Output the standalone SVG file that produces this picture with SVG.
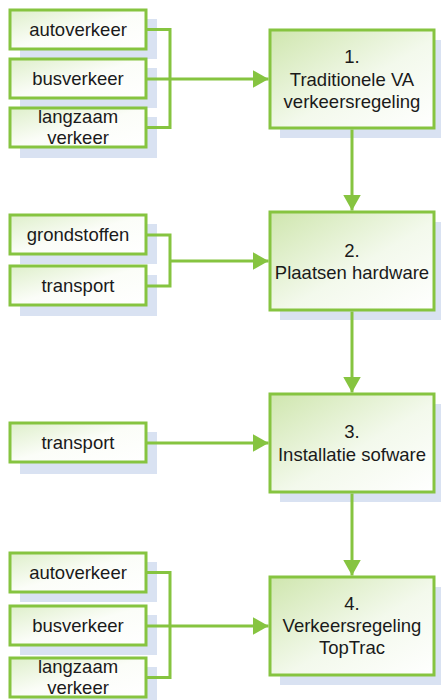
<svg xmlns="http://www.w3.org/2000/svg" width="441" height="700" viewBox="0 0 441 700">
<style>
.sh{fill:#d9e2f2}
.box{stroke:#86c440;stroke-width:3}
.sm{fill:url(#gs)}
.bg{fill:url(#gb)}
text{font-family:"Liberation Sans",Arial,sans-serif;font-size:18.5px;fill:#1a1a1a;text-anchor:middle}
.con{fill:none;stroke:#86c440;stroke-width:3}
</style>
<defs>
<linearGradient id="gb" x1="0" y1="0" x2="1" y2="1">
<stop offset="0" stop-color="#cfe6ae"/>
<stop offset="0.55" stop-color="#f3f9ec"/>
<stop offset="1" stop-color="#ffffff"/>
</linearGradient>
<linearGradient id="gs" x1="0" y1="0" x2="1" y2="1">
<stop offset="0" stop-color="#deefca"/>
<stop offset="0.5" stop-color="#fbfdf8"/>
<stop offset="1" stop-color="#ffffff"/>
</linearGradient>
<marker id="ah" markerUnits="userSpaceOnUse" markerWidth="16" markerHeight="18" viewBox="0 0 16 18" refX="16" refY="9" orient="auto">
<path d="M0,0 L16,9 L0,18 Z" fill="#86c440"/>
</marker>
</defs>

<g id="n-auto1"><rect class="sh" x="20" y="19" width="137" height="40"/><rect class="box sm" x="10" y="10" width="136" height="39"/><text x="78" y="36">autoverkeer</text></g>
<g id="n-bus1"><rect class="sh" x="20" y="68" width="137" height="40"/><rect class="box sm" x="10" y="59" width="136" height="39"/><text x="78" y="85">busverkeer</text></g>
<g id="n-langzaam1"><rect class="sh" x="20" y="117" width="137" height="41"/><rect class="box sm" x="10" y="108" width="136" height="39"/><text x="78" y="123">langzaam</text><text x="78" y="144">verkeer</text></g>

<g id="n-step1"><rect class="sh" x="280" y="40" width="161" height="98"/><rect class="box bg" x="270" y="30" width="164" height="98"/><text x="352" y="63">1.</text><text x="352" y="86">Traditionele VA</text><text x="352" y="108">verkeersregeling</text></g>

<g id="n-grond"><rect class="sh" x="20" y="224" width="137" height="40"/><rect class="box sm" x="10" y="215" width="136" height="39"/><text x="78" y="241">grondstoffen</text></g>
<g id="n-transport2"><rect class="sh" x="20" y="275" width="137" height="41"/><rect class="box sm" x="10" y="266" width="136" height="39"/><text x="78" y="292">transport</text></g>

<g id="n-step2"><rect class="sh" x="280" y="222" width="161" height="98"/><rect class="box bg" x="270" y="212" width="164" height="98"/><text x="352" y="256.5">2.</text><text x="352" y="279">Plaatsen hardware</text></g>

<g id="n-transport3"><rect class="sh" x="20" y="432" width="137" height="42"/><rect class="box sm" x="10" y="423" width="136" height="39"/><text x="78" y="449">transport</text></g>

<g id="n-step3"><rect class="sh" x="280" y="404" width="161" height="98"/><rect class="box bg" x="270" y="394" width="164" height="98"/><text x="352" y="438">3.</text><text x="352" y="461">Installatie sofware</text></g>

<g id="n-auto4"><rect class="sh" x="20" y="562" width="137" height="40"/><rect class="box sm" x="10" y="553" width="136" height="39"/><text x="78" y="579">autoverkeer</text></g>
<g id="n-bus4"><rect class="sh" x="20" y="615" width="137" height="40"/><rect class="box sm" x="10" y="606" width="136" height="39"/><text x="78" y="632">busverkeer</text></g>
<g id="n-langzaam4"><rect class="sh" x="20" y="667" width="137" height="33"/><rect class="box sm" x="10" y="658" width="136" height="39"/><text x="78" y="673">langzaam</text><text x="78" y="694">verkeer</text></g>

<g id="n-step4"><rect class="sh" x="280" y="587" width="161" height="98"/><rect class="box bg" x="270" y="577" width="164" height="98"/><text x="352" y="610">4.</text><text x="352" y="632">Verkeersregeling</text><text x="352" y="654">TopTrac</text></g>

<g id="connectors">
<path class="con" d="M146,29.5 H170 V127.5 H146"/>
<path class="con" d="M146,79 H268.5" marker-end="url(#ah)"/>
<path class="con" d="M146,235 H170 V286 H146"/>
<path class="con" d="M170,261 H268.5" marker-end="url(#ah)"/>
<path class="con" d="M146,443 H268.5" marker-end="url(#ah)"/>
<path class="con" d="M146,572.5 H170 V677.5 H146"/>
<path class="con" d="M146,626 H268.5" marker-end="url(#ah)"/>
<path class="con" d="M352,129.5 V210.5" marker-end="url(#ah)"/>
<path class="con" d="M352,311.5 V392.5" marker-end="url(#ah)"/>
<path class="con" d="M352,493.5 V575.5" marker-end="url(#ah)"/>
</g>
</svg>
